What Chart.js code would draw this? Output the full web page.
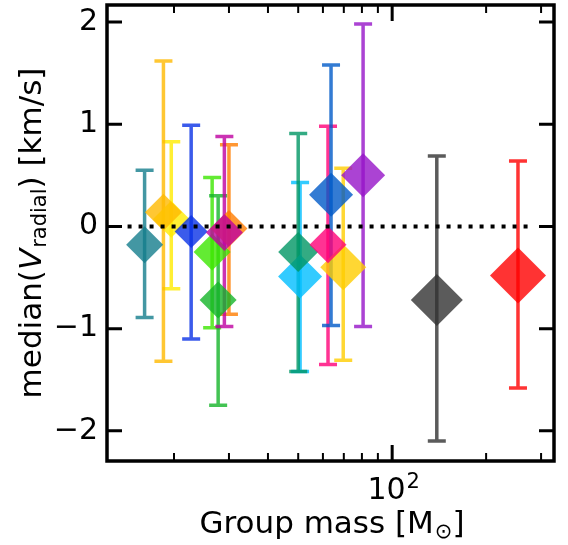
<!DOCTYPE html>
<html>
<head>
<meta charset="utf-8">
<script src="https://cdn.jsdelivr.net/npm/chart.js@4.4.1/dist/chart.umd.min.js"></script>
<style>
  body { margin: 0; background: #fff; }
  #wrap { width: 568px; height: 545px; }
</style>
</head>
<body>
<div id="wrap"><canvas id="myChart"></canvas></div>
<script>
// data, in drawing order
const masses  = [16.1, 19.6, 18.5, 22.7, 26.5, 27.7, 30.0, 29.0, 50.7, 50.0, 69.7, 62.3, 63.7, 80.7, 139, 253];
const medians = [-0.18, 0.07, 0.14, -0.05, -0.25, -0.72, -0.02, -0.06, -0.49, -0.25, -0.40, -0.18, 0.31, 0.50, -0.72, -0.48];
const errLow  = [-0.89, -0.61, -1.32, -1.10, -0.99, -1.75, -0.86, -0.98, -1.42, -1.42, -1.31, -1.35, -0.97, -0.98, -2.10, -1.58];
const errHigh = [0.55, 0.83, 1.62, 0.99, 0.48, 0.30, 0.80, 0.88, 0.43, 0.91, 0.57, 0.98, 1.58, 1.98, 0.69, 0.64];

const colors = [
    'rgba(20,125,140,0.8)', 'rgba(255,235,0,0.8)', 'rgba(255,185,0,0.8)', 'rgba(10,50,230,0.8)',
    'rgba(60,230,0,0.8)', 'rgba(20,180,40,0.8)', 'rgba(255,125,0,0.8)', 'rgba(190,0,160,0.8)',
    'rgba(0,190,255,0.8)', 'rgba(0,150,100,0.8)', 'rgba(255,205,0,0.8)', 'rgba(255,0,120,0.8)',
    'rgba(0,90,200,0.8)', 'rgba(150,20,200,0.8)', 'rgba(50,50,50,0.8)', 'rgba(255,0,0,0.8)'
];
const markerSize = [18.5, 18.5, 18.5, 16.5, 18.5, 18.5, 18.5, 18.5, 22, 20, 23, 18.5, 22, 22, 26, 28];

const yTicks = [-2, -1, 0, 1, 2];
const xMajorTicks = [100];
const xMinorTicks = [20, 30, 40, 50, 60, 70, 80, 90, 200, 300];
const zeroLine = [14.2, 283];

const FONT = 'DejaVu Sans';

// error bars under the markers
const errorBars = {
    id: 'errorBars',
    beforeDatasetsDraw(chart) {
        const { ctx, scales: { x, y } } = chart;
        ctx.save();
        ctx.lineWidth = 3.5;
        masses.forEach((m, i) => {
            const px = x.getPixelForValue(m);
            const lo = y.getPixelForValue(errLow[i]);
            const hi = y.getPixelForValue(errHigh[i]);
            ctx.strokeStyle = colors[i];
            ctx.beginPath();
            ctx.moveTo(px, lo); ctx.lineTo(px, hi);
            ctx.moveTo(px - 9, lo); ctx.lineTo(px + 9, lo);
            ctx.moveTo(px - 9, hi); ctx.lineTo(px + 9, hi);
            ctx.stroke();
        });
        ctx.restore();
    }
};

// box, inward ticks, 10^2 label and axis titles
const frame = {
    id: 'frame',
    afterDraw(chart) {
        const { ctx, chartArea: a, scales: { x, y } } = chart;
        ctx.save();
        ctx.strokeStyle = '#000';
        ctx.lineWidth = 3.5;
        ctx.strokeRect(a.left, a.top, a.right - a.left, a.bottom - a.top);

        ctx.lineWidth = 3;
        yTicks.forEach(v => {
            const py = y.getPixelForValue(v);
            ctx.beginPath();
            ctx.moveTo(a.left, py); ctx.lineTo(a.left + 15, py);
            ctx.moveTo(a.right, py); ctx.lineTo(a.right - 15, py);
            ctx.stroke();
        });
        xMajorTicks.forEach(v => {
            const px = x.getPixelForValue(v);
            ctx.beginPath();
            ctx.moveTo(px, a.bottom); ctx.lineTo(px, a.bottom - 16);
            ctx.moveTo(px, a.top); ctx.lineTo(px, a.top + 16);
            ctx.stroke();
        });
        ctx.lineWidth = 2;
        xMinorTicks.forEach(v => {
            const px = x.getPixelForValue(v);
            ctx.beginPath();
            ctx.moveTo(px, a.bottom); ctx.lineTo(px, a.bottom - 8);
            ctx.moveTo(px, a.top); ctx.lineTo(px, a.top + 8);
            ctx.stroke();
        });

        ctx.fillStyle = '#000';
        ctx.textBaseline = 'alphabetic';
        ctx.textAlign = 'left';
        const big = '31px "' + FONT + '"';
        const small = '21px "' + FONT + '"';

        // 10^2 tick label
        xMajorTicks.forEach(v => {
            const px = x.getPixelForValue(v);
            const base = String(Math.round(Math.log10(v)) === 2 ? 10 : 10);
            const expo = String(Math.round(Math.log10(v)));
            ctx.font = '30px "' + FONT + '"';
            const bw = ctx.measureText(base).width;
            ctx.font = small;
            const ew = ctx.measureText(expo).width;
            const lx = px + 1 - (bw + ew) / 2;
            ctx.font = '30px "' + FONT + '"';
            ctx.fillText(base, lx, 499);
            ctx.font = small;
            ctx.fillText(expo, lx + bw + 1, 488);
        });

        // x title: Group mass [M_sun]
        ctx.font = big;
        const p1 = 'Group mass [M', p3 = ']';
        const w1 = ctx.measureText(p1).width, w3 = ctx.measureText(p3).width;
        ctx.font = small;
        const w2 = ctx.measureText('\u2299').width + 1;
        let sx = 332 - (w1 + w2 + w3) / 2;
        const by = 533;
        ctx.font = big; ctx.fillText(p1, sx, by);
        ctx.font = small; ctx.fillText('\u2299', sx + w1 + 1, by + 5);
        ctx.font = big; ctx.fillText(p3, sx + w1 + w2, by);

        // y title: median(V_radial) [km/s]
        ctx.translate(41, 233);
        ctx.rotate(-Math.PI / 2);
        const ital = 'italic 31px "' + FONT + '"';
        const q1 = 'median(', q2 = 'V', q3 = 'radial', q4 = ') [km/s]';
        ctx.font = big; const u1 = ctx.measureText(q1).width, u4 = ctx.measureText(q4).width;
        ctx.font = ital; const u2 = ctx.measureText(q2).width + 1;
        ctx.font = small; const u3 = ctx.measureText(q3).width;
        let tx = -(u1 + u2 + u3 + u4) / 2;
        ctx.font = big; ctx.fillText(q1, tx, 0); tx += u1;
        ctx.font = ital; ctx.fillText(q2, tx, 0); tx += u2;
        ctx.font = small; ctx.fillText(q3, tx, 5); tx += u3;
        ctx.font = big; ctx.fillText(q4, tx, 0);
        ctx.restore();
    }
};

const noPad = s => {
    s.paddingTop = 0; s.paddingBottom = 0; s.paddingLeft = 0; s.paddingRight = 0;
};

const data = {
    datasets: [
        {
            type: 'line',
            data: zeroLine.map(v => ({ x: v, y: 0 })),
            borderColor: '#000',
            borderWidth: 4,
            borderDash: [4, 7],
            borderCapStyle: 'butt',
            pointRadius: 0,
            fill: false
        },
        {
            type: 'scatter',
            data: masses.map((m, i) => ({ x: m, y: medians[i] })),
            pointStyle: 'rectRot',
            pointRadius: markerSize,
            pointHoverRadius: markerSize,
            backgroundColor: colors,
            borderWidth: 0,
            borderColor: 'rgba(0,0,0,0)'
        }
    ]
};

const config = {
    type: 'scatter',
    data: data,
    options: {
        responsive: true,
        maintainAspectRatio: false,
        animation: false,
        layout: { autoPadding: false, padding: { top: 5, right: 14, left: 0, bottom: 0 } },
        plugins: {
            legend: { display: false },
            tooltip: { enabled: false }
        },
        scales: {
            x: {
                type: 'logarithmic',
                min: 12.2,
                max: 330,
                grid: { display: false, drawTicks: false },
                border: { display: false },
                afterBuildTicks: s => { s.ticks = xMajorTicks.map(v => ({ value: v })); },
                afterFit: s => { s.height = 84; noPad(s); },
                ticks: { display: false }
            },
            y: {
                min: -2.295,
                max: 2.167,
                grid: { display: false, drawTicks: false },
                border: { display: false },
                afterBuildTicks: s => { s.ticks = yTicks.map(v => ({ value: v })); },
                afterFit: s => { s.width = 107; noPad(s); },
                ticks: {
                    padding: 9,
                    color: '#000',
                    font: { family: FONT, size: 30 },
                    callback: v => v < 0 ? '\u2212' + Math.abs(v) : String(v)
                }
            }
        }
    },
    plugins: [errorBars, frame]
};

const myChart = new Chart(document.getElementById('myChart'), config);
</script>
</body>
</html>
